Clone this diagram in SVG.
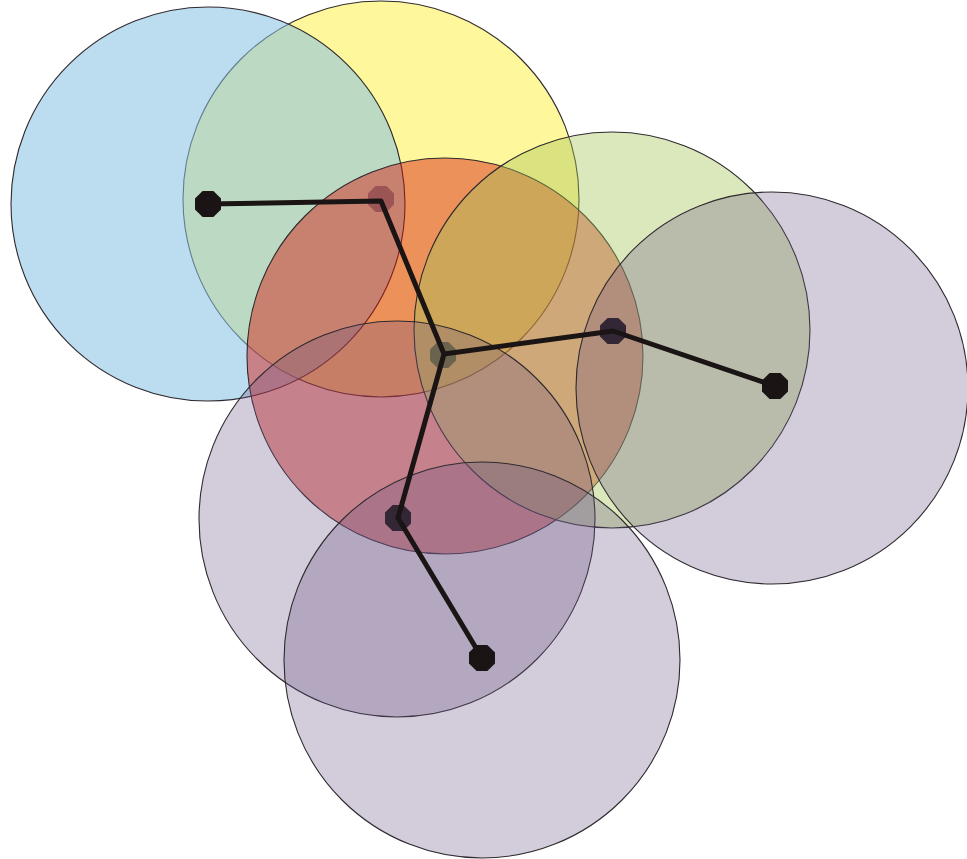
<svg xmlns="http://www.w3.org/2000/svg" xmlns:xlink="http://www.w3.org/1999/xlink" width="967" height="859" viewBox="0 0 967 859">
<style>
.c{stroke:#2e2a2e;stroke-width:1.1}
.blue{fill:#87c0e2;fill-opacity:0.56}
.yellow{fill:#fff79b}
.orange{fill:#d6190e;fill-opacity:0.46}
.green{fill:#a2c557;fill-opacity:0.4}
.purple{fill:#6c5584;fill-opacity:0.3}
.dot{fill:#1a1414}
.dot-in{fill:#1a1414;fill-opacity:0.8}
.link{fill:none;stroke:#1a1414;stroke-width:5;stroke-linejoin:round;stroke-linecap:round}
</style>
<defs>
<polygon id="oct" points="13,5.4 5.4,13 -5.4,13 -13,5.4 -13,-5.4 -5.4,-13 5.4,-13 13,-5.4"/>
</defs>
<rect width="967" height="859" fill="#ffffff"/>
<g id="node-yellow"><circle class="c yellow" cx="381" cy="199" r="198"/><use class="dot-in" xlink:href="#oct" x="381" y="199"/></g>
<g id="node-blue"><circle class="c blue" cx="208" cy="204" r="197"/><use class="dot" xlink:href="#oct" x="208" y="204"/></g>
<g id="node-orange"><circle class="c orange" cx="445" cy="356" r="198"/><use class="dot-in" xlink:href="#oct" x="443" y="355"/></g>
<g id="node-green"><circle class="c green" cx="612" cy="330" r="198"/><use class="dot" xlink:href="#oct" x="613" y="331"/></g>
<g id="node-purple-right"><circle class="c purple" cx="772" cy="388" r="196"/><use class="dot" xlink:href="#oct" x="775" y="386"/></g>
<g id="node-purple-left"><circle class="c purple" cx="397" cy="519" r="198"/><use class="dot" xlink:href="#oct" x="398" y="518"/></g>
<g id="node-purple-bottom"><circle class="c purple" cx="482" cy="660" r="198"/><use class="dot" xlink:href="#oct" x="482" y="658"/></g>
<g id="connectors">
<path class="link" d="M208,204 L381,201 L444,354 L613,331 L775,386 M444,354 L398,518 L482,658"/>
</g>
</svg>
